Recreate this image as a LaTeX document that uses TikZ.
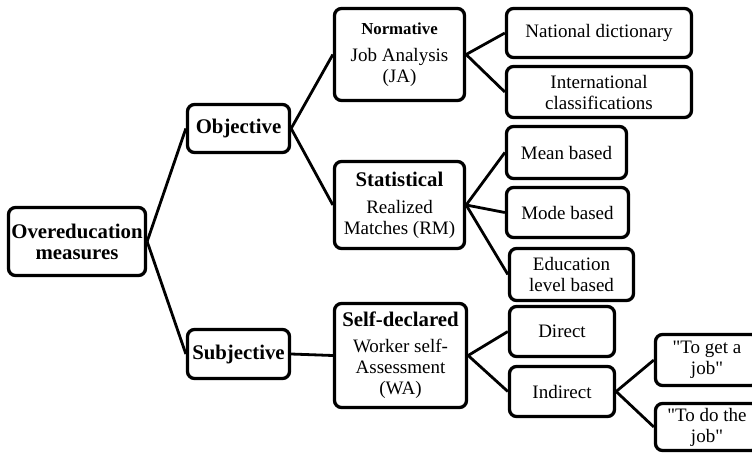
\documentclass[tikz,border=0pt]{standalone}
\usepackage{fontspec}
\setmainfont{Liberation Serif}[Ligatures=TeXOff]
\newcommand{\headtxt}[1]{{\fontsize{20.8}{22}\selectfont\bfseries #1}}
\begin{document}
\begin{tikzpicture}[x=1pt,y=-1pt,
  box/.style={draw, line width=3.3pt, rounded corners=7pt, inner sep=0pt, align=center,
    font=\fontsize{19}{21}\selectfont},
  link/.style={line width=2.8pt}]
\useasboundingbox (0,0) rectangle (752,453);
\clip (0,0) rectangle (752,453);
% level 0
\node[box, minimum width=137, minimum height=68] (over) at (77,241.5)
  {\headtxt{Overeducation}\\\headtxt{measures}};
% level 1
\node[box, minimum width=102, minimum height=48] (obj) at (238.5,128.5) {\headtxt{Objective}};
\node[box, minimum width=102, minimum height=49] (subj) at (238.5,354) {\headtxt{Subjective}};
% level 2
\node[box, minimum width=130, minimum height=92] (norm) at (399.5,54.5)
  {{\fontsize{16.8}{20}\selectfont\bfseries Normative}\\[6pt]Job Analysis\\(JA)};
\node[box, minimum width=130, minimum height=87] (stat) at (399.5,205)
  {\headtxt{Statistical}\\[6pt]Realized\\Matches (RM)};
\node[box, minimum width=132, minimum height=104] (self) at (400.5,355.5)
  {\headtxt{Self-declared}\\[5pt]Worker self-\\Assessment\\(WA)};
% level 3
\node[box, minimum width=185, minimum height=49] (nat) at (599,33) {National dictionary};
\node[box, minimum width=185, minimum height=51] (intl) at (599,92) {International\\classifications};
\node[box, minimum width=120, minimum height=52] (mean) at (566.5,152.5) {Mean based};
\node[box, minimum width=122, minimum height=50] (mode) at (567.5,212.5) {Mode based};
\node[box, minimum width=124, minimum height=52] (edu) at (571.5,274.5) {Education\\level based};
\node[box, minimum width=105, minimum height=50] (direct) at (562,331.5) {Direct};
\node[box, minimum width=105, minimum height=50] (indirect) at (562,391.5) {Indirect};
% level 4
\node[box, minimum width=103, minimum height=51] (get) at (707,360) {"To get a\\job"};
\node[box, minimum width=103, minimum height=47] (do) at (707,427) {"To do the\\job"};
% connectors
\draw[link] (over.east) -- (obj.west);
\draw[link] (over.east) -- (subj.west);
\draw[link] (obj.east) -- (norm.west);
\draw[link] (obj.east) -- (stat.west);
\draw[link] (subj.east) -- (self.west);
\draw[link] (norm.east) -- (nat.west);
\draw[link] (norm.east) -- (intl.west);
\draw[link] (stat.east) -- (mean.west);
\draw[link] (stat.east) -- (mode.west);
\draw[link] (stat.east) -- (edu.west);
\draw[link] (self.east) -- (direct.west);
\draw[link] (self.east) -- (indirect.west);
\draw[link] (indirect.east) -- (get.west);
\draw[link] (indirect.east) -- (do.west);
\end{tikzpicture}
\end{document}
